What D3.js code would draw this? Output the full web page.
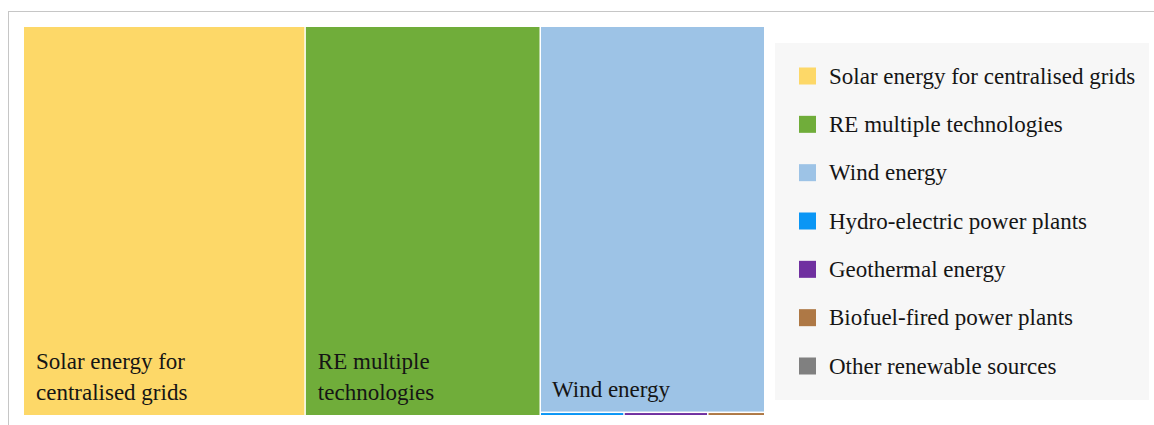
<!DOCTYPE html>
<html>
<head>
<meta charset="utf-8">
<script src="https://cdn.jsdelivr.net/npm/d3@7"></script>
<style>
  html, body { margin: 0; padding: 0; background: #fff; }
  svg { display: block; }
</style>
</head>
<body>
<svg id="chart" width="1154" height="425"></svg>
<script>
// Renewable energy categories and their shares (relative values)
const categories = [
  "Solar energy for centralised grids",
  "RE multiple technologies",
  "Wind energy",
  "Hydro-electric power plants",
  "Geothermal energy",
  "Biofuel-fired power plants",
  "Other renewable sources"
];
const values = [380, 317, 300, 1.0, 1.0, 0.68, 0];
const colors = ["#FDD868", "#70AD3A", "#9DC3E6", "#0A96F5", "#7030A0", "#AE7845", "#808080"];
// Labels drawn inside the tiles (line-broken)
const tileLabels = [
  ["Solar energy for", "centralised grids"],
  ["RE multiple", "technologies"],
  ["Wind energy"],
  [], [], [], []
];

const svg = d3.select("#chart");
const fontFamily = "'Liberation Serif', 'DejaVu Serif', serif";

// outer frame
svg.append("rect")
  .attr("x", 8.5).attr("y", 11.5)
  .attr("width", 1200).attr("height", 500)
  .attr("fill", "none").attr("stroke", "#c6c6c6").attr("stroke-width", 1);

const area = { x0: 24, y0: 27, x1: 764, y1: 415 };

const root = d3.hierarchy({
  children: categories.map((c, i) => ({ name: c, value: values[i], color: colors[i], label: tileLabels[i] }))
}).sum(d => d.value || 0)
  .sort((a, b) => b.value - a.value);

d3.treemap()
  .tile(d3.treemapSquarify.ratio(1))
  .size([area.x1 - area.x0, area.y1 - area.y0])
  .paddingInner(1.5)
  .round(false)(root);

const g = svg.append("g").attr("transform", `translate(${area.x0},${area.y0})`);

const leaves = g.selectAll("g.tile")
  .data(root.leaves().filter(d => d.value > 0))
  .join("g").attr("class", "tile");

leaves.append("rect")
  .attr("x", d => d.x0).attr("y", d => d.y0)
  .attr("width", d => Math.max(0, d.x1 - d.x0))
  .attr("height", d => Math.max(0, d.y1 - d.y0))
  .attr("fill", d => d.data.color);

leaves.each(function(d) {
  const lines = d.data.label;
  if (!lines.length) return;
  const lh = 31;
  const bottom = d.y1 - 15;
  const t = d3.select(this).append("text")
    .attr("font-family", fontFamily)
    .attr("font-size", 23)
    .attr("fill", "#151515");
  lines.forEach((ln, i) => {
    t.append("tspan")
      .attr("x", d.x0 + (lines.length > 1 ? 12 : 11))
      .attr("y", bottom - (lines.length - 1 - i) * lh)
      .text(ln);
  });
});

// legend
const legend = svg.append("g");
legend.append("rect")
  .attr("x", 775).attr("y", 43).attr("width", 374).attr("height", 357)
  .attr("fill", "#f7f7f7");

const ly = d3.scalePoint().domain(categories).range([76, 366]);
const items = legend.selectAll("g.item").data(categories).join("g").attr("class", "item")
  .attr("transform", d => `translate(0,${ly(d)})`);
items.append("rect")
  .attr("x", 799).attr("y", -8.5).attr("width", 17).attr("height", 17)
  .attr("fill", (d, i) => colors[i]);
items.append("text")
  .attr("x", 829).attr("y", 7.5)
  .attr("font-family", fontFamily)
  .attr("font-size", 23)
  .attr("fill", "#151515")
  .text(d => d);
</script>
</body>
</html>
